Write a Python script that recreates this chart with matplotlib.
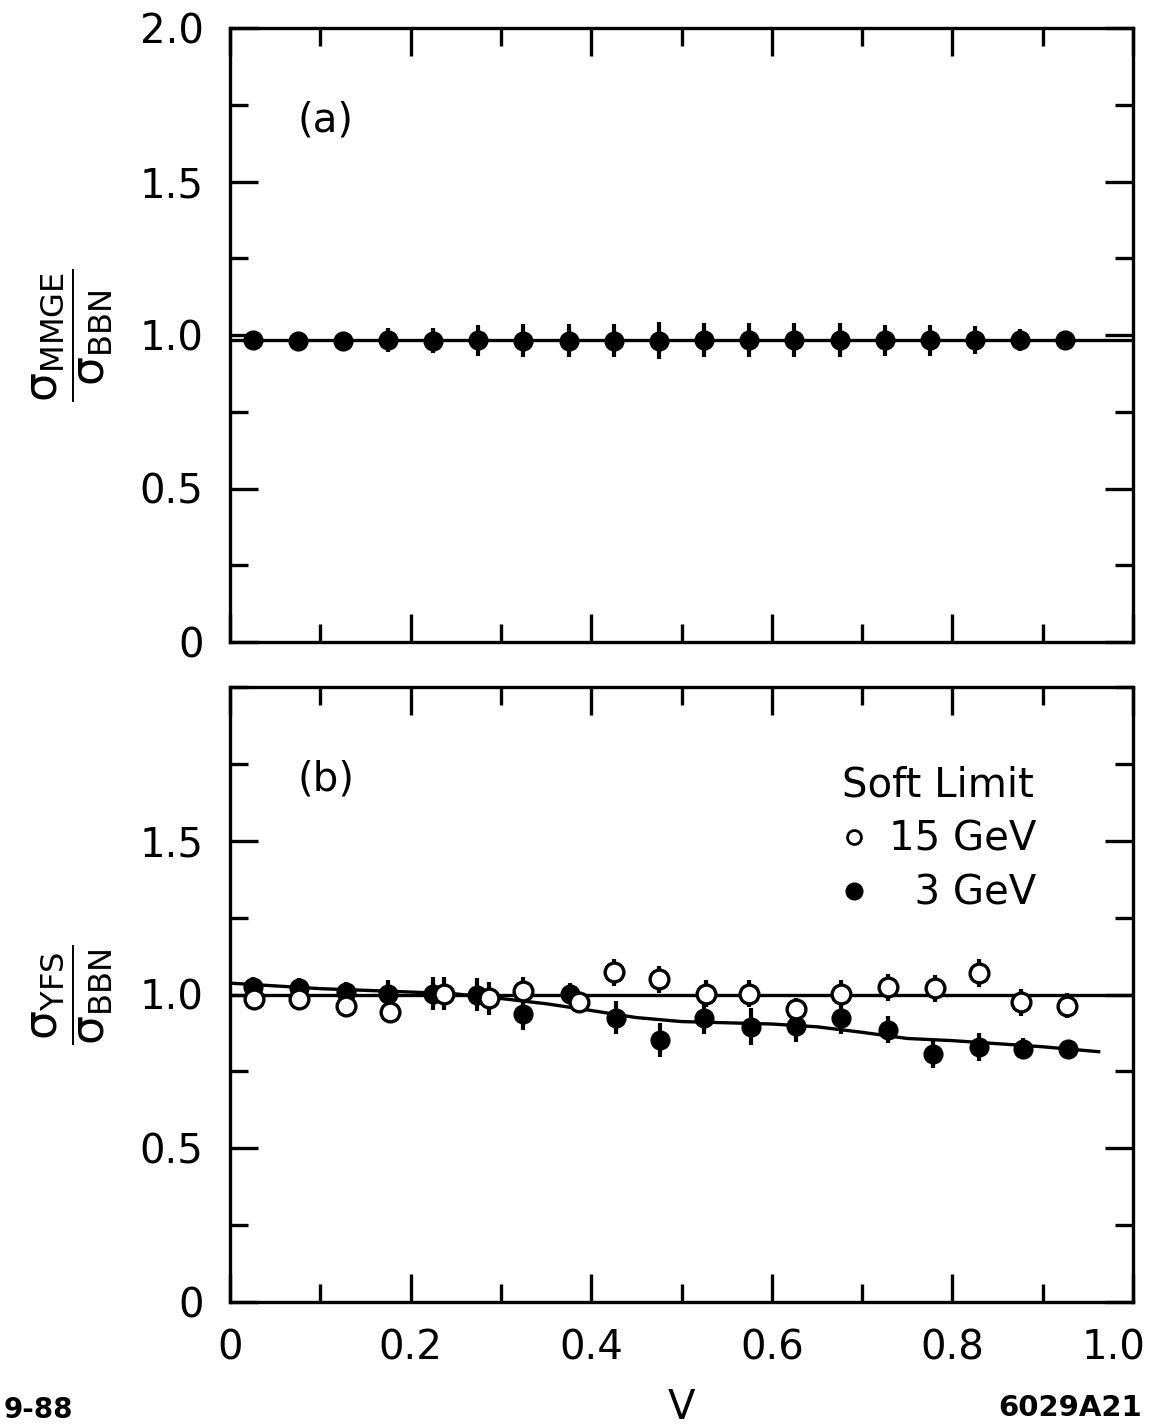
import numpy as np
import matplotlib
matplotlib.use("Agg")
import matplotlib.pyplot as plt
import matplotlib.transforms as mtransforms
from matplotlib.lines import Line2D
from matplotlib.ticker import MultipleLocator, FixedLocator, FixedFormatter

plt.rcParams['font.family'] = ['DejaVu Sans']
plt.rcParams['mathtext.fontset'] = 'dejavusans'

# ---------------- data ----------------
# panel (a): sigma_MMGE / sigma_BBN
a_v = [0.025, 0.075, 0.125, 0.175, 0.225, 0.275, 0.325, 0.375, 0.425, 0.475,
       0.525, 0.575, 0.625, 0.675, 0.725, 0.775, 0.825, 0.875, 0.925]
a_ratio = [0.984, 0.982, 0.982, 0.983, 0.982, 0.983, 0.982, 0.982, 0.982, 0.982,
           0.983, 0.984, 0.983, 0.983, 0.983, 0.983, 0.984, 0.983, 0.983]
a_err = [0.01, 0.01, 0.015, 0.04, 0.04, 0.05, 0.055, 0.055, 0.055, 0.06,
         0.055, 0.055, 0.055, 0.055, 0.05, 0.05, 0.045, 0.035, 0.015]
a_fit_v = [0.0, 1.0]
a_fit = [0.985, 0.985]

# panel (b): sigma_YFS / sigma_BBN
b15_v = [0.027, 0.076, 0.129, 0.177, 0.237, 0.287, 0.325, 0.387, 0.425, 0.475,
         0.527, 0.575, 0.627, 0.677, 0.729, 0.781, 0.829, 0.876, 0.927]
b15_ratio = [0.984, 0.984, 0.961, 0.944, 1.003, 0.987, 1.013, 0.977, 1.072, 1.049,
             1.003, 1.003, 0.954, 1.003, 1.023, 1.020, 1.069, 0.974, 0.964]
b15_err = [0.035, 0.035, 0.02, 0.02, 0.055, 0.055, 0.045, 0.02, 0.045, 0.045,
           0.045, 0.045, 0.035, 0.045, 0.045, 0.045, 0.045, 0.045, 0.04]

b3_v = [0.025, 0.076, 0.129, 0.175, 0.225, 0.274, 0.324, 0.376, 0.428, 0.476,
        0.525, 0.577, 0.627, 0.677, 0.729, 0.779, 0.829, 0.878, 0.928]
b3_ratio = [1.023, 1.020, 1.007, 1.003, 1.003, 1.000, 0.938, 1.003, 0.925, 0.853,
            0.925, 0.895, 0.899, 0.925, 0.886, 0.807, 0.830, 0.824, 0.824]
b3_err = [0.035, 0.035, 0.035, 0.045, 0.055, 0.055, 0.055, 0.035, 0.055, 0.055,
          0.055, 0.06, 0.055, 0.055, 0.045, 0.045, 0.045, 0.035, 0.025]

b15_fit_v = [0.0, 1.0]
b15_fit = [1.0, 1.0]
b3_fit_v = [0.0, 0.1, 0.2, 0.25, 0.3, 0.35, 0.4, 0.45, 0.5, 0.6, 0.65, 0.7,
            0.75, 0.8, 0.85, 0.9, 0.962]
b3_fit = [1.037, 1.019, 1.008, 1.002, 0.987, 0.970, 0.948, 0.925, 0.912, 0.904,
          0.895, 0.877, 0.857, 0.850, 0.840, 0.830, 0.814]

x_ticks_major = [0.0, 0.2, 0.4, 0.6, 0.8, 1.0]
x_labels = ['0', '0.2', '0.4', '0.6', '0.8', '1.0']
ya_ticks = [0.0, 0.5, 1.0, 1.5, 2.0]
ya_labels = ['0', '0.5', '1.0', '1.5', '2.0']
yb_ticks = [0.0, 0.5, 1.0, 1.5]
yb_labels = ['0', '0.5', '1.0', '1.5']

# ---------------- figure ----------------
W, H = 1157, 1425
fig = plt.figure(figsize=(W / 100, H / 100), dpi=100)

def px_axes(l, t, r, b):
    return fig.add_axes([l / W, 1 - b / H, (r - l) / W, (b - t) / H])

axA = px_axes(230, 28, 1133, 642)
axB = px_axes(230, 687, 1133, 1302)

FS = 29
LW = 2.4

def style(ax, yt, yl, xlabels):
    ax.set_xlim(0, 1.0)
    ax.set_ylim(0, 2.0)
    for s in ax.spines.values():
        s.set_linewidth(LW)
    ax.xaxis.set_major_locator(FixedLocator(x_ticks_major))
    ax.xaxis.set_minor_locator(MultipleLocator(0.1))
    ax.yaxis.set_major_locator(FixedLocator(yt))
    ax.yaxis.set_major_formatter(FixedFormatter(yl))
    ax.yaxis.set_minor_locator(MultipleLocator(0.25))
    if xlabels:
        ax.xaxis.set_major_formatter(FixedFormatter(x_labels))
    else:
        ax.set_xticklabels([])
    ax.tick_params(which='both', direction='in', top=True, right=True,
                   width=LW, labelsize=FS, pad=19)
    ax.tick_params(which='major', length=20)
    ax.tick_params(which='minor', length=13)

style(axA, ya_ticks, ya_labels, False)
style(axB, yb_ticks, yb_labels, True)

# nudge the last x tick label ("1.0") left so it stays inside the figure
fig.canvas.draw()
lab = axB.get_xticklabels()[-1]
lab.set_transform(lab.get_transform() +
                  mtransforms.ScaledTranslation(-20 / 100, 0, fig.dpi_scale_trans))

MS = 13.5
ELW = 3.0
# panel (a)
axA.plot(a_fit_v, a_fit, color='black', lw=LW)
axA.errorbar(a_v, a_ratio, yerr=a_err, fmt='o', color='black', ms=MS,
             elinewidth=ELW, capsize=0)
axA.text(0.075, 1.70, '(a)', fontsize=FS, ha='left', va='center')

# panel (b)
axB.plot(b15_fit_v, b15_fit, color='black', lw=LW)
axB.plot(b3_fit_v, b3_fit, color='black', lw=LW)
axB.errorbar(b3_v, b3_ratio, yerr=b3_err, fmt='o', color='black', ms=MS,
             elinewidth=ELW, capsize=0, zorder=3)
axB.errorbar(b15_v, b15_ratio, yerr=b15_err, fmt='o', color='black', ms=MS,
             mfc='white', mec='black', mew=LW, elinewidth=ELW, capsize=0, zorder=4)
axB.text(0.075, 1.70, '(b)', fontsize=FS, ha='left', va='center')

handles = [Line2D([], [], ls='none', marker='o', ms=10, mfc='white', mec='black', mew=2),
           Line2D([], [], ls='none', marker='o', ms=12, color='black')]
leg = axB.legend(handles, ['15 GeV', '  3 GeV'], title='Soft Limit',
                 loc='upper right', bbox_to_anchor=(0.915, 0.905), frameon=False,
                 fontsize=FS, title_fontsize=FS, handlelength=0.6,
                 handletextpad=0.55, labelspacing=0.35, borderpad=0)
leg._legend_box.align = 'left'

# y-axis labels
axA.set_ylabel(r'$\dfrac{\mathrm{\sigma}_{\mathrm{MMGE}}}{\mathrm{\sigma}_{\mathrm{BBN}}}$',
               fontsize=33, labelpad=18)
axB.set_ylabel(r'$\dfrac{\mathrm{\sigma}_{\mathrm{YFS}}}{\mathrm{\sigma}_{\mathrm{BBN}}}$',
               fontsize=33, labelpad=18)
axB.set_xlabel('V', fontsize=FS, labelpad=14)

fig.text(4 / W, 1 - 1410 / H, '9-88', fontsize=20, fontweight='bold', ha='left', va='center')
fig.text(1142 / W, 1 - 1408 / H, '6029A21', fontsize=21, fontweight='bold', ha='right', va='center')

fig.savefig('out.png', dpi=100)
